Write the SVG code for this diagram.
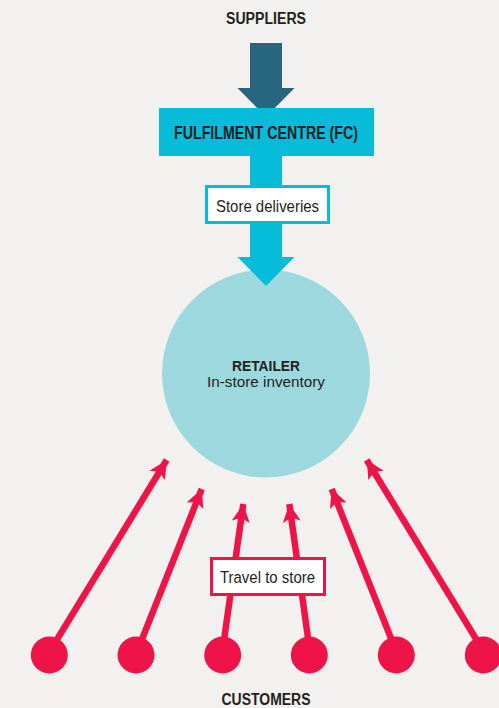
<svg xmlns="http://www.w3.org/2000/svg" width="499" height="708" viewBox="0 0 499 708">
<defs>
<style>
.t{font-family:"Liberation Sans Narrow","Liberation Sans",Arial,sans-serif;fill:#231f20;}
.b{font-weight:bold;}
.red{stroke:#ee1448;stroke-width:6.5;fill:none;marker-end:url(#rh);}
.dot{fill:#ee1448;}
</style>
<marker id="rh" markerUnits="userSpaceOnUse" markerWidth="20" markerHeight="20" viewBox="0 0 20 20" refX="18" refY="10" orient="auto">
<path d="M0,1 L18,10 L0,19 L4,10 Z" fill="#ee1448"/>
</marker>
</defs>
<rect width="499" height="708" fill="#f3f1ef"/>

<g id="suppliers">
<text class="t b" x="266" y="24" font-size="16" text-anchor="middle" textLength="80" lengthAdjust="spacingAndGlyphs">SUPPLIERS</text>
</g>

<g id="retailer">
<circle cx="266" cy="373.5" r="104" fill="#9dd8df"/>
<text class="t b" x="266" y="370.5" font-size="15" text-anchor="middle" textLength="68" lengthAdjust="spacingAndGlyphs">RETAILER</text>
<text class="t" x="266" y="387" font-size="15.5" text-anchor="middle" textLength="118" lengthAdjust="spacingAndGlyphs">In-store inventory</text>
</g>

<g id="connectors">
<polygon points="250,43 282,43 282,88 294.5,88 266,117 237.5,88 250,88" fill="#27667e"/>
<polygon points="250,156 282,156 282,257 294.5,257 266,286 237.5,257 250,257" fill="#07bcd9"/>
<line class="red" x1="56.7" y1="640" x2="166.7" y2="460"/>
<line class="red" x1="141.7" y1="640" x2="201.7" y2="489"/>
<line class="red" x1="224" y1="640" x2="243.3" y2="504"/>
<line class="red" x1="308.3" y1="640" x2="289.3" y2="504"/>
<line class="red" x1="391.7" y1="640" x2="331.7" y2="489"/>
<line class="red" x1="476.7" y1="640" x2="366.7" y2="460"/>
</g>

<g id="fc">
<rect x="159" y="108" width="215" height="48" fill="#07bcd9"/>
<text class="t b" x="266" y="138.5" font-size="18" text-anchor="middle" textLength="184" lengthAdjust="spacingAndGlyphs">FULFILMENT CENTRE (FC)</text>
</g>

<g id="store-deliveries">
<rect x="206.5" y="186.5" width="122" height="36" fill="#ffffff" stroke="#07bcd9" stroke-width="3"/>
<text class="t" x="267.5" y="211.5" font-size="16" text-anchor="middle" textLength="103" lengthAdjust="spacingAndGlyphs">Store deliveries</text>
</g>

<g id="travel">
<rect x="211.5" y="558.5" width="113" height="36" fill="#ffffff" stroke="#ee1448" stroke-width="3"/>
<text class="t" x="267.5" y="583" font-size="16" text-anchor="middle" textLength="95" lengthAdjust="spacingAndGlyphs">Travel to store</text>
</g>

<g id="customers">
<circle class="dot" cx="49.3" cy="655" r="18.5"/>
<circle class="dot" cx="136" cy="655" r="18.5"/>
<circle class="dot" cx="222.7" cy="655" r="18.5"/>
<circle class="dot" cx="309.3" cy="655" r="18.5"/>
<circle class="dot" cx="396.3" cy="655" r="18.5"/>
<circle class="dot" cx="483.3" cy="655" r="18.5"/>
<text class="t b" x="266" y="705" font-size="16" text-anchor="middle" textLength="89" lengthAdjust="spacingAndGlyphs">CUSTOMERS</text>
</g>
</svg>
